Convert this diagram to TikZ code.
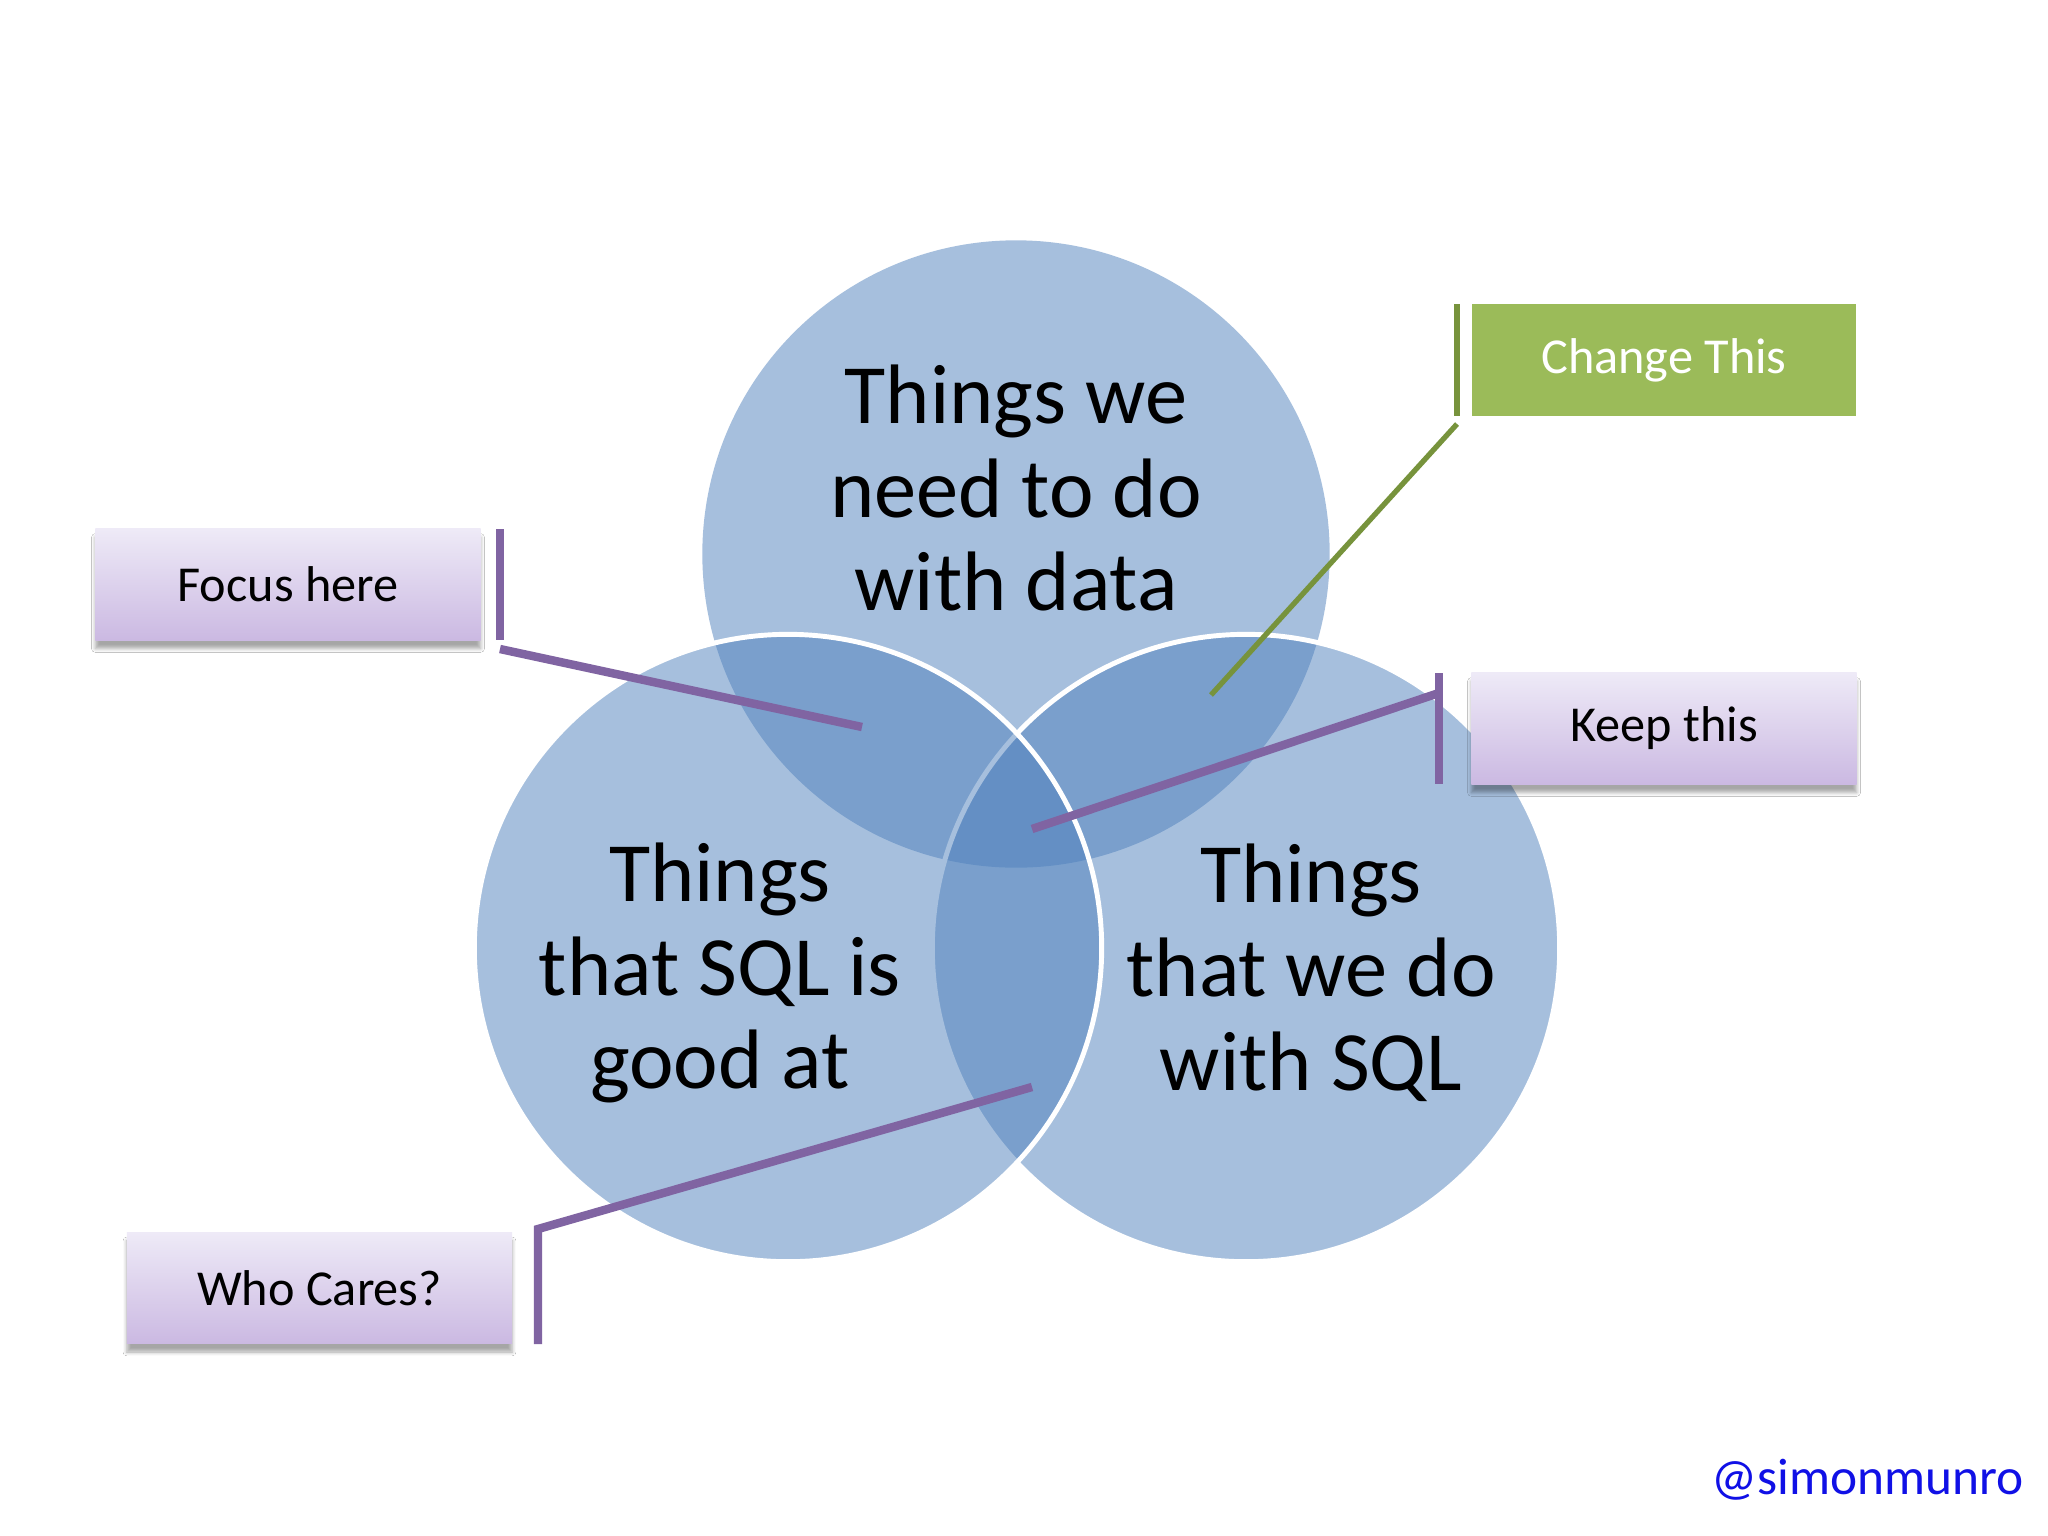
\documentclass[tikz,border=0pt]{standalone}
\usepackage{fontspec}
\setmainfont{Carlito}
\usetikzlibrary{shadows,shadows.blur}
\definecolor{vennblue}{HTML}{4F81BD}
\definecolor{callpurple}{HTML}{8064A2}
\definecolor{lavtop}{HTML}{EEEAF7}
\definecolor{lavbot}{HTML}{CBB9E2}
\definecolor{chgreen}{HTML}{9BBB59}
\definecolor{oliveline}{HTML}{77933C}
\definecolor{sigblue}{HTML}{1010E6}
\tikzset{
  vennfill/.style={fill=vennblue, fill opacity=0.5},
  vennedge/.style={vennfill, draw=white, line width=1.4pt},
  circtext/.style={align=center, text=black, font=\fontsize{24}{26.7}\selectfont, inner sep=0pt},
  labbox/.style={minimum width=3.85cm, minimum height=1.11cm, inner sep=0pt,
    top color=lavtop, bottom color=lavbot,
    blur shadow={shadow blur steps=5, shadow xshift=0pt, shadow yshift=-2.4pt, shadow blur radius=1.1pt, shadow opacity=35},
    font=\fontsize{14.3}{17}\selectfont, text=black},
  greenbox/.style={minimum width=3.84cm, minimum height=1.11cm, inner sep=0pt,
    fill=chgreen, font=\fontsize{14.3}{17}\selectfont, text=white},
  purpbar/.style={draw=callpurple, line width=2.4pt},
  greenbar/.style={draw=oliveline, line width=1.5pt}
}
\begin{document}
\begin{tikzpicture}[x=0.01cm,y=-0.01cm]
\useasboundingbox (0,0) rectangle (2048,1536);
\fill[white] (0,0) rectangle (2048,1536);

% Venn circles
\path[vennfill] (1016,554) circle[radius=3.135cm];
\path[vennedge] (1246,948) circle[radius=3.135cm];
\path[vennedge] (788,948) circle[radius=3.135cm];

% circle texts
\node[circtext] (ttop) at (1016,488) {Things we\\need to do\\with data};
\node[circtext] (tleft) at (720,973) {Things\\that SQL is\\good at};
\node[circtext] (tright) at (1311,973) {Things\\that we do\\with SQL};

% Focus here
\node[labbox] (focus) at (288,584.5) {Focus here};
\coordinate (fb1) at (500,529);
\coordinate (fb2) at (500,640);
\coordinate (fl1) at (500,649);
\coordinate (fl2) at (862,727);
\draw[purpbar] (fb1) -- (fb2);
\draw[purpbar] (fl1) -- (fl2);

% Change This
\node[greenbox] (change) at (1664,360) {Change This};
\coordinate (cb1) at (1457,304);
\coordinate (cb2) at (1457,416);
\coordinate (cl1) at (1457,424);
\coordinate (cl2) at (1211,695);
\draw[greenbar] (cb1) -- (cb2);
\draw[greenbar] (cl1) -- (cl2);

% Keep this
\node[labbox] (keep) at (1664,728.5) {Keep this};
\coordinate (kb1) at (1439,673);
\coordinate (kb2) at (1439,784);
\coordinate (kl1) at (1439,693);
\coordinate (kl2) at (1032,829);
\draw[purpbar] (kb1) -- (kb2);
\draw[purpbar] (kl1) -- (kl2);

% Who Cares?
\node[labbox] (who) at (319.5,1288) {Who Cares?};
\coordinate (wb1) at (538,1229);
\coordinate (wb2) at (538,1344);
\coordinate (wl2) at (1032,1087);
\draw[purpbar] (wb2) -- (wb1) -- (wl2);

% signature
\node[anchor=east, text=sigblue, font=\fontsize{14.6}{17}\selectfont, inner sep=0pt] (sig) at (2024,1480) {@simonmunro};
\end{tikzpicture}
\end{document}
